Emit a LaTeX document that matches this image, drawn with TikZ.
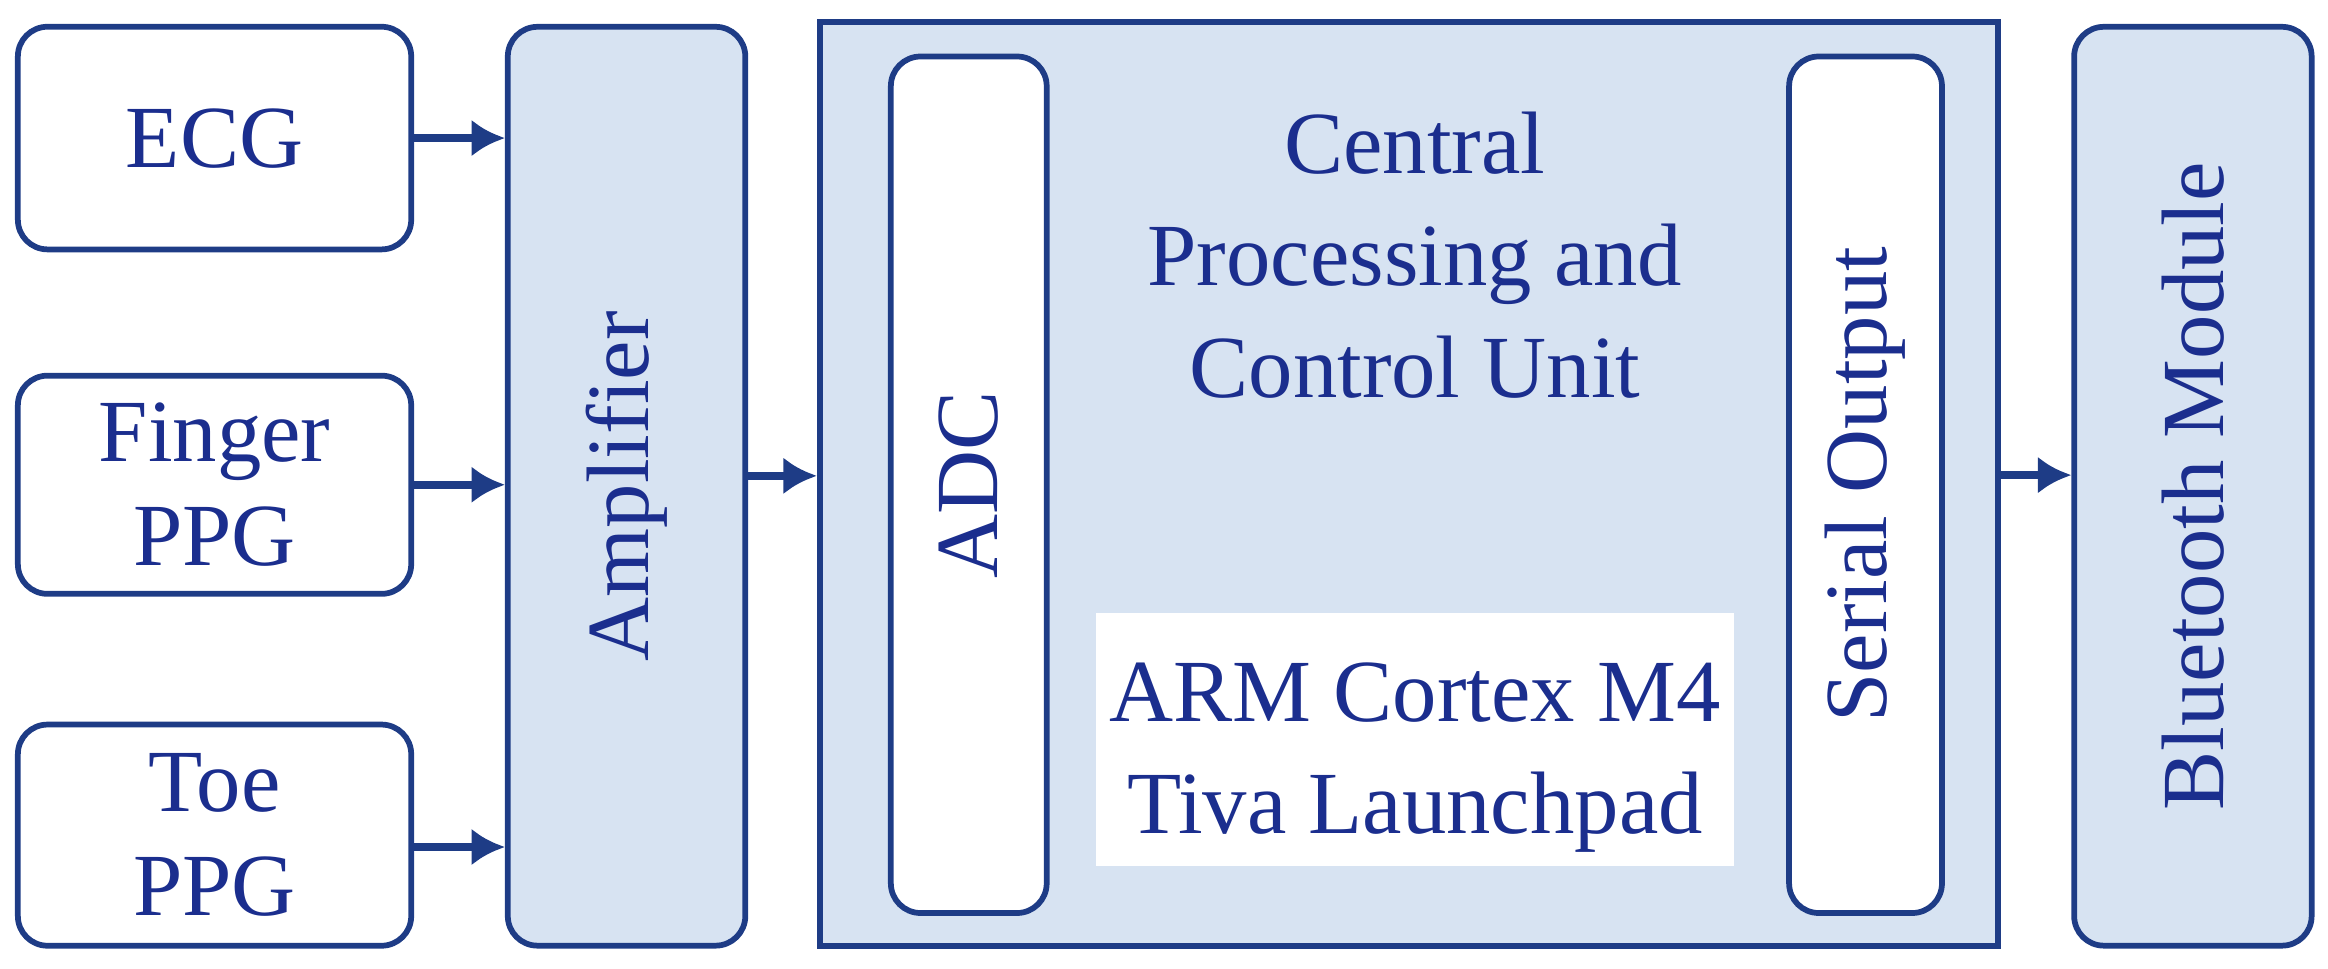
\documentclass[tikz,border=0pt]{standalone}
\usepackage{fontspec}
\setmainfont{Liberation Serif}
\usetikzlibrary{arrows.meta}
\definecolor{ln}{HTML}{1E3C86}
\definecolor{tx}{HTML}{1B2E8E}
\definecolor{fl}{HTML}{D7E3F2}
\begin{document}
\begin{tikzpicture}[x=0.02cm,y=-0.02cm,
  every node/.style={text=tx,font=\fontsize{34}{40}\selectfont},
  box/.style={draw=ln,line width=2.2pt,rounded corners=0.4cm,inner sep=0pt},
  arr/.style={draw=ln,line width=3pt,-{Latex[length=0.45cm,width=0.5cm]}}]
\useasboundingbox (0,0) rectangle (1568,652);
\node[box,fill=white,minimum width=5.3cm,minimum height=3cm,align=center] (ecg) at (144.5,93) {ECG};
\node[box,fill=white,minimum width=5.3cm,minimum height=2.94cm,align=center] (fin) at (144.5,326.5) {Finger\\PPG};
\node[box,fill=white,minimum width=5.3cm,minimum height=2.98cm,align=center] (toe) at (144.5,562.5) {Toe\\PPG};
\node[box,fill=fl,minimum width=3.2cm,minimum height=12.38cm] (amp) at (422,327.5) {};
\node[rotate=90] at (amp.center) {Amplifier};
\node[draw=ln,line width=2.2pt,fill=fl,minimum width=15.88cm,minimum height=12.44cm] (cpu) at (949,326) {};
\node[box,fill=white,minimum width=2.1cm,minimum height=11.54cm] (adc) at (652.5,326.5) {};
\node[rotate=90] at (adc.center) {ADC};
\node[box,fill=white,minimum width=2.06cm,minimum height=11.54cm] (ser) at (1256.5,326.5) {};
\node[rotate=90] at (ser.center) {Serial Output};
\node[align=center,font=\fontsize{34}{43}\selectfont] (cen) at (953,172) {Central\\Processing and\\Control Unit};
\node[fill=white,minimum width=8.6cm,minimum height=3.4cm] (arm) at (953,498) {};
\node[align=center,font=\fontsize{34}{43}\selectfont] (armt) at (953,510) {ARM Cortex M4\\Tiva Launchpad};
\node[box,fill=fl,minimum width=3.2cm,minimum height=12.38cm] (bt) at (1477,327.5) {};
\node[rotate=90] at (bt.center) {Bluetooth Module};
\draw[arr] (ecg.east) -- (ecg.east -| amp.west);
\draw[arr] (fin.east) -- (fin.east -| amp.west);
\draw[arr] (toe.east) ++(0,8) coordinate (t1) (t1) -- (t1 -| amp.west);
\draw[arr] (amp.east) ++(0,-7) coordinate (a1) (a1) -- (a1 -| cpu.west);
\draw[arr] (cpu.east) ++(0,-6) coordinate (c1) (c1) -- (c1 -| bt.west);
\end{tikzpicture}
\end{document}
